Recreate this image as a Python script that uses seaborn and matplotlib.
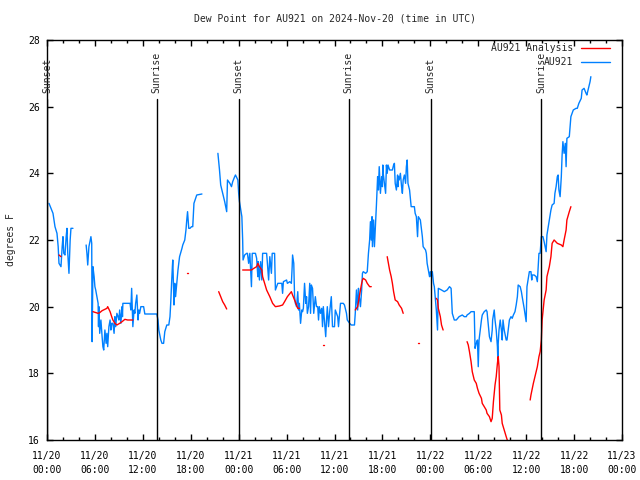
import matplotlib
matplotlib.use("Agg")
import matplotlib.pyplot as plt
import matplotlib.dates as mdates
from matplotlib.lines import Line2D
import seaborn as sns
import numpy as np
import pandas as pd

# ---- data (hours after 2024-11-20 00:00 UTC, dew point in deg F) ----
START = pd.Timestamp("2024-11-20 00:00")

# observed AU921, split into segments where the record has gaps
obs_seg1_h = [0.25, 0.75, 1.0, 1.25, 1.4, 1.5, 1.75, 1.9, 2.0, 2.1, 2.25, 2.4, 2.5, 2.6,
              2.75, 2.9, 3.0, 3.25]
obs_seg1_v = [23.1, 22.8, 22.4, 22.2, 21.8, 21.3, 21.2, 21.8, 22.1, 21.6, 21.55, 22.1, 22.35,
              21.6, 21.0, 22.0, 22.35, 22.35]

obs_seg2_h = [4.9, 5.0, 5.1, 5.25, 5.5, 5.6, 5.65, 5.75, 5.9, 6.0, 6.1, 6.25, 6.4, 6.45, 6.5,
              6.6, 6.75, 6.9, 7.0, 7.1, 7.25, 7.4, 7.5, 7.6, 7.75, 7.9, 8.0, 8.1, 8.25, 8.4,
              8.5, 8.6, 8.75, 8.9, 9.0, 9.1, 9.25, 9.4, 9.45, 9.5, 9.75, 10.1, 10.4, 10.5,
              10.6, 10.75, 10.9, 11.0, 11.1, 11.25, 11.4, 11.5, 11.6, 11.75, 12.1, 12.25,
              13.75, 13.9, 14.0, 14.25, 14.4, 14.6, 14.75, 15.0, 15.25, 15.4, 15.5, 15.6,
              15.7, 15.75, 15.9, 16.0, 16.1, 16.25, 16.4, 16.6, 16.9, 17.0, 17.25, 17.4,
              17.5, 17.6, 17.75, 17.9, 18.1, 18.25, 18.4, 18.75, 19.4]
obs_seg2_v = [21.85, 21.6, 21.25, 21.8, 22.1, 21.9, 18.95, 21.2, 20.9, 20.6, 20.5, 20.3, 20.1,
              19.4, 20.0, 19.2, 19.6, 19.1, 18.8, 18.7, 19.3, 18.9, 19.2, 18.8, 19.4, 19.6,
              19.3, 19.5, 19.5, 19.2, 19.7, 19.4, 19.8, 19.7, 19.6, 19.9, 19.5, 20.0, 19.7,
              20.1, 20.1, 20.1, 20.1, 19.9, 20.55, 19.4, 19.9, 19.8, 20.1, 20.35, 19.6, 19.9,
              19.8, 20.0, 20.0, 19.78, 19.78, 19.6, 19.3, 19.0, 18.9, 18.9, 19.25, 19.45,
              19.45, 19.7, 20.15, 20.7, 21.2, 21.4, 20.05, 20.7, 20.3, 20.7, 21.1, 21.5,
              21.75, 21.85, 22.0, 22.3, 22.6, 22.85, 22.35, 22.35, 22.4, 22.4, 23.1, 23.35,
              23.38]

obs_seg3_h = [21.4, 21.6, 21.75, 22.0, 22.25, 22.5, 22.6, 22.9, 23.1, 23.25, 23.5, 23.6, 23.9,
              24.0, 24.1, 24.4, 24.5, 24.55, 24.75, 25.0, 25.1, 25.25, 25.4, 25.6, 25.7, 26.1,
              26.25, 26.4, 26.45, 26.6, 26.75, 26.9, 27.0, 27.5, 27.6, 27.75, 27.9, 28.1,
              28.2, 28.5, 28.6, 28.9, 29.4, 29.5, 29.6, 30.0, 30.1, 30.4, 30.6, 30.7, 30.75,
              30.9, 31.0, 31.1, 31.25, 31.4, 31.5, 31.6, 31.75, 31.9, 32.0, 32.1, 32.25, 32.4,
              32.5, 32.6, 32.75, 32.9, 33.0, 33.1, 33.25, 33.4, 33.6, 33.75, 33.9, 34.0, 34.1,
              34.25, 34.4, 34.5, 34.6, 34.9, 35.0, 35.1, 35.25, 35.4, 35.6, 35.75, 36.0, 36.1,
              36.4, 36.5, 36.75, 37.1, 37.25, 37.5, 37.6, 37.9, 38.1, 38.5, 38.6, 38.75, 38.9,
              39.0, 39.1, 39.25, 39.4, 39.5, 39.6, 39.9, 40.1, 40.25, 40.4, 40.5, 40.6, 40.7,
              40.75, 40.9, 41.0, 41.25, 41.4, 41.5, 41.6, 41.75, 41.9, 42.0, 42.05, 42.1,
              42.4, 42.5, 42.6, 42.7, 42.9, 43.25, 43.4, 43.5, 43.6, 43.75, 43.9, 43.95, 44.0,
              44.1, 44.25, 44.4, 44.5, 44.6, 44.75, 44.9, 45.0, 45.1, 45.2, 45.4, 45.6, 46.0,
              46.1, 46.25, 46.4, 46.5, 46.75, 46.9, 47.0, 47.1, 47.4, 47.5, 47.6, 47.75, 47.9,
              48.0, 48.1, 48.25, 48.4, 48.5, 48.75, 48.9, 49.0, 49.4, 49.75, 50.1, 50.4, 50.6,
              50.75, 51.0, 51.25, 51.6, 52.0, 52.25, 52.5, 52.6, 52.9, 53.1, 53.5, 53.6, 53.75,
              53.9, 54.0, 54.1, 54.25, 54.4, 54.5, 54.75, 55.0, 55.1, 55.4, 55.6, 55.75, 55.8,
              56.0, 56.1, 56.25, 56.4, 56.45, 56.5, 56.6, 56.75, 56.9, 57.0, 57.1, 57.25,
              57.5, 57.6, 57.9, 58.1, 58.25, 58.4, 58.6, 58.75, 58.9, 59.0, 59.25, 59.4, 59.5,
              59.75, 60.0, 60.1, 60.4, 60.6, 60.7, 60.75, 61.0, 61.25, 61.4, 61.6, 61.75, 61.9,
              62.1, 62.25, 62.5, 62.6, 62.9, 63.1, 63.25, 63.5, 63.6, 63.75, 63.9, 64.0, 64.1,
              64.25, 64.4, 64.45, 64.5, 64.6, 64.75, 64.9, 65.0, 65.05, 65.1, 65.4, 65.6,
              65.75, 65.9, 66.25, 66.4, 66.6, 66.9, 67.0, 67.25, 67.5, 67.6, 67.75, 68.0, 68.1]
obs_seg3_v = [24.6, 24.1, 23.65, 23.4, 23.15, 22.85, 23.8, 23.7, 23.6, 23.75, 23.9, 23.95, 23.8,
              23.4, 23.15, 22.7, 22.0, 21.4, 21.55, 21.6, 21.6, 21.3, 21.6, 20.6, 21.6, 21.6,
              21.45, 20.9, 21.35, 20.8, 21.35, 20.8, 21.6, 21.6, 21.3, 20.8, 21.5, 21.0, 21.6,
              21.6, 20.5, 20.7, 20.7, 20.4, 20.75, 20.8, 20.7, 20.75, 20.7, 21.2, 21.55, 21.3,
              20.3, 20.1, 20.0, 20.45, 19.9, 20.1, 19.5, 19.9, 19.85, 19.95, 20.7, 20.1, 20.3,
              19.8, 20.0, 20.7, 19.8, 20.65, 20.55, 19.8, 20.3, 20.0, 20.0, 19.6, 20.0, 19.8,
              19.95, 19.4, 20.0, 19.1, 19.6, 20.0, 19.4, 19.85, 20.3, 19.4, 19.4, 19.9, 19.7,
              19.4, 20.1, 20.1, 20.05, 19.8, 19.6, 19.5, 19.45, 19.45, 19.8, 20.5, 19.9, 20.55,
              20.3, 20.0, 20.5, 21.0, 21.05, 21.0, 21.05, 21.6, 22.0, 22.55, 22.0, 22.7, 21.8,
              22.6, 21.8, 23.05, 23.9, 23.5, 24.2, 23.4, 23.9, 23.6, 24.25, 24.0, 23.4, 24.25,
              24.0, 24.25, 24.1, 24.1, 24.25, 24.3, 23.7, 23.5, 23.95, 23.6, 23.9, 23.8, 24.0,
              23.6, 23.4, 23.8, 23.95, 23.7, 24.2, 24.4, 23.7, 23.5, 23.0, 23.0, 22.8, 22.7,
              22.1, 22.7, 22.6, 22.3, 22.1, 21.8, 21.7, 21.6, 21.3, 21.1, 20.9, 21.05, 20.9,
              21.05, 20.7, 20.6, 19.9, 19.3, 20.55, 20.5, 20.45, 20.5, 20.6, 20.55, 19.8, 19.6,
              19.6, 19.7, 19.75, 19.7, 19.7, 19.75, 19.8, 19.85, 19.85, 18.75, 18.9, 19.0,
              18.2, 19.0, 19.3, 19.6, 19.75, 19.85, 19.9, 19.85, 19.1, 18.95, 19.3, 19.6, 19.9,
              19.6, 19.3, 18.8, 18.4, 18.9, 19.3, 19.6, 19.3, 19.0, 19.6, 19.3, 19.0, 19.0,
              19.6, 19.7, 19.65, 19.75, 19.85, 20.05, 20.3, 20.65, 20.6, 20.45, 20.3, 19.95,
              19.55, 20.6, 21.05, 21.05, 20.8, 20.95, 20.95, 20.9, 20.75, 21.6, 21.6, 22.1,
              22.1, 21.95, 21.65, 22.15, 22.6, 22.9, 23.05, 23.1, 23.4, 23.6, 23.9, 23.95,
              23.5, 23.3, 23.9, 24.25, 24.55, 24.95, 24.6, 24.9, 24.2, 24.65, 25.05, 25.1,
              25.7, 25.8, 25.9, 25.95, 25.95, 26.1, 26.25, 26.5, 26.55, 26.4, 26.35, 26.5,
              26.75, 26.9]

# model analysis for AU921 (several short pieces)
ana_segs_h = [
    [1.5, 1.75],
    [5.75, 6.4, 6.6, 6.9, 7.5, 7.6, 7.9, 8.1, 8.25, 8.5, 8.75, 9.1, 9.4, 9.75, 10.1, 10.75],
    [17.55, 17.65],
    [21.5, 21.75, 22.0, 22.25, 22.5],
    [24.5, 25.6, 25.9, 26.25, 26.4, 26.6, 26.9, 27.0, 27.25, 27.5, 27.9, 28.25, 28.6, 29.1,
     29.5, 29.75, 30.1, 30.6, 30.75, 31.0, 31.25, 31.4, 31.6],
    [34.55, 34.7],
    [38.6, 38.9, 39.1, 39.25, 39.4, 39.5, 39.6, 39.9, 40.1, 40.4, 40.6],
    [42.6, 42.9, 43.1, 43.25, 43.4, 43.6, 43.9, 44.1, 44.4, 44.6],
    [46.45, 46.55],
    [48.75, 48.9, 49.0, 49.25, 49.4, 49.6],
    [52.6, 52.75, 52.9, 53.1, 53.25, 53.5, 53.75, 53.9, 54.1, 54.4, 54.5, 54.75, 55.0, 55.1,
     55.4, 55.6, 55.75, 55.9, 56.0, 56.1, 56.25, 56.4, 56.5, 56.6, 56.7, 56.9, 57.0, 57.25,
     57.5, 57.9],
    [60.5, 60.6, 60.9, 61.1, 61.4, 61.5, 61.6, 61.75, 61.9, 62.0, 62.25, 62.5, 62.6, 62.9,
     63.1, 63.25, 63.5, 63.9, 64.4, 64.6, 64.75, 65.0, 65.1, 65.4, 65.6],
]
ana_segs_v = [
    [21.55, 21.5],
    [19.85, 19.8, 19.82, 19.88, 19.95, 20.0, 19.85, 19.7, 19.6, 19.5, 19.45, 19.5, 19.55,
     19.62, 19.6, 19.6],
    [21.0, 21.0],
    [20.45, 20.3, 20.15, 20.05, 19.93],
    [21.1, 21.1, 21.15, 21.2, 21.3, 21.2, 21.1, 20.9, 20.7, 20.5, 20.3, 20.1, 20.0, 20.02,
     20.05, 20.15, 20.3, 20.45, 20.35, 20.2, 20.05, 19.95, 19.95],
    [18.85, 18.85],
    [19.9, 20.0, 20.3, 20.5, 20.7, 20.8, 20.85, 20.8, 20.7, 20.6, 20.6],
    [21.5, 21.1, 20.9, 20.7, 20.45, 20.2, 20.15, 20.05, 19.95, 19.8],
    [18.9, 18.9],
    [20.25, 20.2, 19.95, 19.7, 19.45, 19.3],
    [18.95, 18.85, 18.65, 18.35, 18.05, 17.8, 17.7, 17.55, 17.4, 17.25, 17.1, 17.0, 16.9,
     16.8, 16.7, 16.55, 16.65, 17.15, 17.4, 17.65, 17.9, 18.3, 18.5, 18.2, 16.9, 16.75, 16.5,
     16.3, 16.1, 15.8],
    [17.2, 17.35, 17.7, 17.9, 18.2, 18.35, 18.5, 18.65, 19.0, 19.6, 20.2, 20.5, 20.9, 21.2,
     21.5, 21.9, 22.0, 21.9, 21.85, 21.8, 22.0, 22.3, 22.6, 22.85, 23.0],
]

# sun events (hours after start)
sun_labels = ["Sunset", "Sunrise", "Sunset", "Sunrise", "Sunset", "Sunrise"]
sun_hours = [0.0, 13.75, 24.0, 37.8, 48.05, 61.85]

OBS_COLOR = "#0080ff"
ANA_COLOR = "#ff0000"

# ---- build long table ----
rows = []
obs_segs = [(obs_seg1_h, obs_seg1_v), (obs_seg2_h, obs_seg2_v), (obs_seg3_h, obs_seg3_v)]
for i, (hs, vs) in enumerate(obs_segs):
    for h, v in zip(hs, vs):
        rows.append(("AU921", f"o{i}", h, v))
for i, (hs, vs) in enumerate(zip(ana_segs_h, ana_segs_v)):
    for h, v in zip(hs, vs):
        rows.append(("AU921 Analysis", f"a{i}", h, v))
df = pd.DataFrame(rows, columns=["series", "seg", "hours", "dewpoint"])
df["time"] = START + pd.to_timedelta(df["hours"], unit="h")

sns.set_style("ticks")
plt.rcParams["font.family"] = ["DejaVu Sans Mono"]
plt.rcParams["font.size"] = 7

fig = plt.figure(figsize=(6.4, 4.8), dpi=100)
ax = fig.add_axes([47 / 640, 40 / 480, 575 / 640, 400 / 480])

sns.lineplot(data=df, x="time", y="dewpoint", hue="series", units="seg",
             estimator=None, sort=False, palette={"AU921": OBS_COLOR, "AU921 Analysis": ANA_COLOR},
             linewidth=1, legend=False, ax=ax)

# sunrise / sunset markers
for lab, h in zip(sun_labels, sun_hours):
    t = START + pd.Timedelta(hours=h)
    ax.plot([t, t], [16, 26.22], color="black", linewidth=1)
    ax.text(t, 26.4, lab, rotation=90, ha="center", va="bottom", fontsize=7)

ax.set_xlim(START, START + pd.Timedelta(hours=72))
ax.set_ylim(16, 28)
ax.set_yticks(np.arange(16, 29, 2))
ax.xaxis.set_major_locator(mdates.HourLocator(byhour=[0, 6, 12, 18]))
ax.xaxis.set_minor_locator(mdates.HourLocator(byhour=range(0, 24, 2)))
ax.xaxis.set_major_formatter(mdates.DateFormatter("%m/%d\n%H:%M"))
ax.tick_params(which="both", direction="in", top=True, right=True, labelsize=7,
               colors="black")
ax.tick_params(which="major", length=4, width=1)
ax.tick_params(axis="x", which="major", pad=8)
ax.tick_params(axis="y", which="major", pad=5)
ax.tick_params(which="minor", length=2, width=1)
for lbl in ax.get_xticklabels():
    lbl.set_linespacing(1.5)
for s in ax.spines.values():
    s.set_color("black")
    s.set_linewidth(1)

ax.set_xlabel("")
ax.set_ylabel("degrees F", fontsize=7, labelpad=9)
ax.set_title("Dew Point for AU921 on 2024-Nov-20 (time in UTC)", fontsize=7, pad=13)

handles = [Line2D([], [], color=ANA_COLOR, lw=1), Line2D([], [], color=OBS_COLOR, lw=1)]
ax.legend(handles, ["AU921 Analysis", "AU921"], loc="upper right", frameon=False,
          bbox_to_anchor=(1 - 10 / 575, 1 - 1 / 400),
          markerfirst=False, fontsize=7, handlelength=3, borderaxespad=0,
          labelspacing=0.45, handletextpad=0.8, borderpad=0.2)

plt.savefig("out.png", dpi=100)
